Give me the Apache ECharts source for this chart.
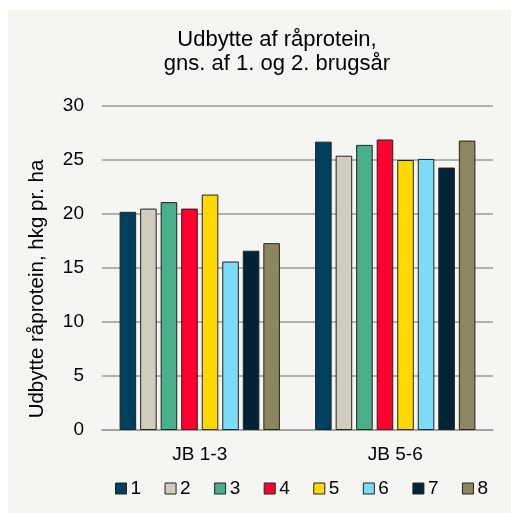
<!DOCTYPE html>
<html>
<head>
<meta charset="utf-8">
<script src="https://cdn.jsdelivr.net/npm/echarts@6/dist/echarts.min.js"></script>
<style>
html,body{margin:0;padding:0;background:#ffffff;}
#c{position:absolute;left:8px;top:10px;width:503px;height:503px;}
</style>
</head>
<body>
<div id="c"></div>
<script>
const categories = ['JB 1-3', 'JB 5-6'];
const seriesNames = ['1', '2', '3', '4', '5', '6', '7', '8'];
const s1 = [20.2, 26.7];
const s2 = [20.5, 25.4];
const s3 = [21.1, 26.4];
const s4 = [20.5, 26.9];
const s5 = [21.8, 25.0];
const s6 = [15.6, 25.1];
const s7 = [16.6, 24.3];
const s8 = [17.3, 26.8];
const seriesValues = [s1, s2, s3, s4, s5, s6, s7, s8];
const colors = ['#00405f', '#d0cdbd', '#4aaf89', '#ff002e', '#ffd800', '#7cdcf8', '#002436', '#8c8761'];
const yTicks = [0, 5, 10, 15, 20, 25, 30];
const titleLines = ['Udbytte af råprotein,', 'gns. af 1. og 2. brugsår'];
const yName = 'Udbytte råprotein, hkg pr. ha';

const font = 'Liberation Sans, Arial, sans-serif';
const chart = echarts.init(document.getElementById('c'));
chart.setOption({
  backgroundColor: '#f5f5f1',
  animation: false,
  color: colors,
  textStyle: { fontFamily: font },
  graphic: [
    { type: 'text', x: 269, y: 30, style: { text: titleLines[0], fontSize: 22, fontFamily: font, fill: '#000', align: 'center', verticalAlign: 'middle' } },
    { type: 'text', x: 269, y: 54, style: { text: titleLines[1], fontSize: 22, fontFamily: font, fill: '#000', align: 'center', verticalAlign: 'middle' } },
    { type: 'text', x: 29, y: 279, rotation: Math.PI / 2, style: { text: yName, fontSize: 20.5, fontFamily: font, fill: '#000', align: 'center', verticalAlign: 'middle' } }
  ],
  grid: { left: 94, right: 18, top: 96, bottom: 83, containLabel: false },
  legend: {
    data: seriesNames,
    left: 102, bottom: 10,
    itemWidth: 11, itemHeight: 11, itemGap: 23.5,
    icon: 'rect',
    textStyle: { fontSize: 19, color: '#000', fontFamily: font, padding: [0, 0, 0, -1] },
    itemStyle: { borderColor: '#222', borderWidth: 1 }
  },
  xAxis: {
    type: 'category',
    data: categories,
    axisLine: { show: true, lineStyle: { color: '#9a9a9a', width: 1.5 } },
    axisTick: { show: false },
    axisLabel: { fontSize: 19, color: '#000', margin: 15, fontFamily: font }
  },
  yAxis: {
    type: 'value',
    min: 0, max: 30, interval: 5,
    axisLine: { show: false },
    axisTick: { show: false },
    axisLabel: { fontSize: 19, color: '#000', margin: 18, fontFamily: font,
      formatter: v => yTicks.includes(v) ? String(v) : '' },
    splitLine: { lineStyle: { color: '#9a9a9a', width: 1.5 } }
  },
  series: seriesNames.map((n, i) => ({
    name: n,
    type: 'bar',
    data: seriesValues[i],
    barGap: '24%',
    barCategoryGap: '18%',
    itemStyle: { color: colors[i], borderColor: '#222', borderWidth: 1 }
  }))
});
</script>
</body>
</html>
